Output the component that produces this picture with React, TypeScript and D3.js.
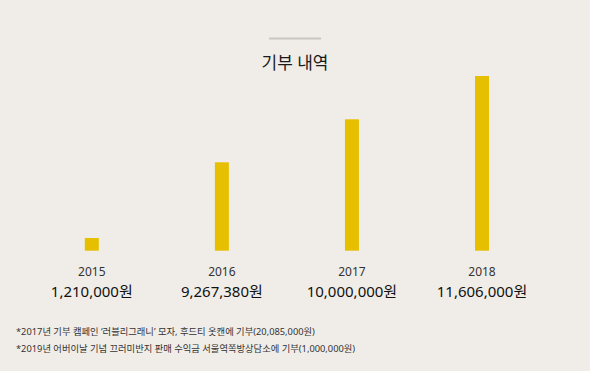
import React from "react";
import * as d3 from "d3";

const years = ["2015", "2016", "2017", "2018"];
const amounts = ["1,210,000원", "9,267,380원", "10,000,000원", "11,606,000원"];
// visual bar heights as drawn in the reference (relative units, not proportional to amounts)
const barLevels = [12.7, 88.4, 131.4, 174.7];
const title = "기부 내역";
const notes = [
  "*2017년 기부 캠페인 ‘러블리그래니’ 모자, 후드티 옷캔에 기부(20,085,000원)",
  "*2019년 어버이날 기념 끄러미반지 판매 수익금 서울역쪽방상담소에 기부(1,000,000원)",
];

const W = 590;
const H = 371;
const FONT = "'Noto Sans', 'Noto Sans CJK KR', sans-serif";

export default function App() {
  const x = d3.scalePoint<string>().domain(years).range([91.8, 482]);
  const y = d3.scaleLinear().domain([0, 174.7]).range([250.7, 76]);
  const bw = 14;
  return (
    <svg width={W} height={H} style={{ position: "absolute", left: 0, top: 0, display: "block" }}>
      <rect width={W} height={H} fill="#f0ede8" />
      <line x1={269} x2={321} y1={38.5} y2={38.5} stroke="#c9c7c3" strokeWidth={2} />
      <text x={295} y={62} textAnchor="middle" dominantBaseline="central" fontFamily={FONT} fontSize={17} fill="#1a1a1a">
        {title}
      </text>
      {years.map((yr, i) => (
        <g key={yr}>
          <rect
            x={(x(yr) as number) - bw / 2}
            y={y(barLevels[i])}
            width={bw}
            height={y(0) - y(barLevels[i])}
            fill="#e6c000"
          />
          <text x={x(yr)} y={271.5} textAnchor="middle" dominantBaseline="central" fontFamily={FONT} fontSize={12} fill="#333">
            {yr}
          </text>
          <text x={x(yr)} y={291} textAnchor="middle" dominantBaseline="central" fontFamily={FONT} fontSize={15} fill="#111">
            {amounts[i]}
          </text>
        </g>
      ))}
      {notes.map((n, i) => (
        <text key={i} x={16} y={331 + i * 17.5} dominantBaseline="central" fontFamily={FONT} fontSize={9.3} fill="#333">
          {n}
        </text>
      ))}
    </svg>
  );
}
